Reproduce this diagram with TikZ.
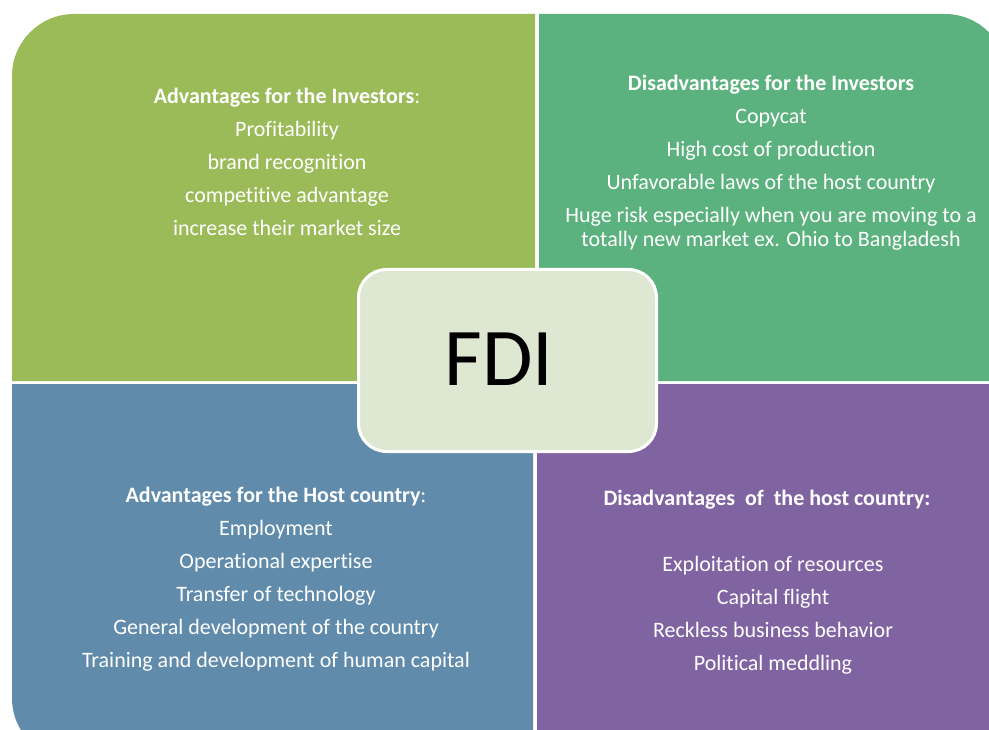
\documentclass[tikz,border=0pt]{standalone}
\usepackage{fontspec}
\setmainfont{Carlito}[Ligatures=NoCommon]
\definecolor{qgreen}{HTML}{9BBB59}
\definecolor{qteal}{HTML}{5CB27E}
\definecolor{qblue}{HTML}{608BAA}
\definecolor{qpurple}{HTML}{8064A2}
\definecolor{corefill}{HTML}{DEE7D1}
\tikzset{
  line/.style={text=white, font=\fontsize{22}{26}\selectfont, anchor=base, inner sep=0pt},
  head/.style={line, font=\fontsize{22}{26}\selectfont\bfseries},
  core/.style={rounded corners=28pt, fill=corefill, draw=white, line width=3pt,
    minimum width=298pt, minimum height=182pt},
}
\begin{document}
\begin{tikzpicture}[x=1pt, y=-1pt]
\useasboundingbox (0,0) rectangle (989,730);
\clip (0,0) rectangle (989,730);
\fill[white] (0,0) rectangle (989,730);

% four quadrants, each with its outer corner rounded (r = 62)
\fill[qgreen] (12,381) -- (12,76) .. controls (12,41.8) and (39.8,14) .. (74,14)
  -- (535,14) -- (535,381) -- cycle;
\fill[qteal] (539,381) -- (539,14) -- (945,14)
  .. controls (979.2,14) and (1007,41.8) .. (1007,76) -- (1007,381) -- cycle;
\fill[qblue] (12,384) -- (533,384) -- (533,760) -- (74,760)
  .. controls (39.8,760) and (12,732.2) .. (12,698) -- cycle;
\fill[qpurple] (537,384) -- (1007,384) -- (1007,760) -- (537,760) -- cycle;

% advantages for the investors
\node[head] (tl0) at (287,103.5) {Advantages for the Investors\mdseries:};
\foreach \t [count=\i] in {Profitability, brand recognition,
    competitive advantage, increase their market size}
  \node[line] (tl\i) at (287,103.5+33*\i) {\t};

% disadvantages for the investors
\node[head] (tr0) at (771,90.5) {Disadvantages for the Investors};
\foreach \t [count=\i] in {Copycat, High cost of production,
    Unfavorable laws of the host country,
    Huge risk especially when you are moving to a}
  \node[line] (tr\i) at (771,90.5+33*\i) {\t};
\node[line] (tr5) at (771,246.5) {totally new market ex. Ohio to Bangladesh};

% advantages for the host country
\node[head] (bl0) at (276,502.5) {Advantages for the Host country\mdseries:};
\foreach \t [count=\i] in {Employment, Operational expertise,
    Transfer of technology, General development of the country,
    Training and development of human capital}
  \node[line] (bl\i) at (276,502.5+33*\i) {\t};

% disadvantages of the host country
\node[head] (br0) at (767,505.5) {Disadvantages\ \ of\ \ the host country:};
\foreach \t [count=\i] in {Exploitation of resources, Capital flight,
    Reckless business behavior, Political meddling}
  \node[line] (br\i) at (773,538.5+33*\i) {\t};

% central FDI box
\node[core] (box) at (507.5,360.5) {};
\node[anchor=base, inner sep=0pt, font=\fontsize{82}{90}\selectfont] (fdi) at (499,385) {FDI};
\end{tikzpicture}
\end{document}
